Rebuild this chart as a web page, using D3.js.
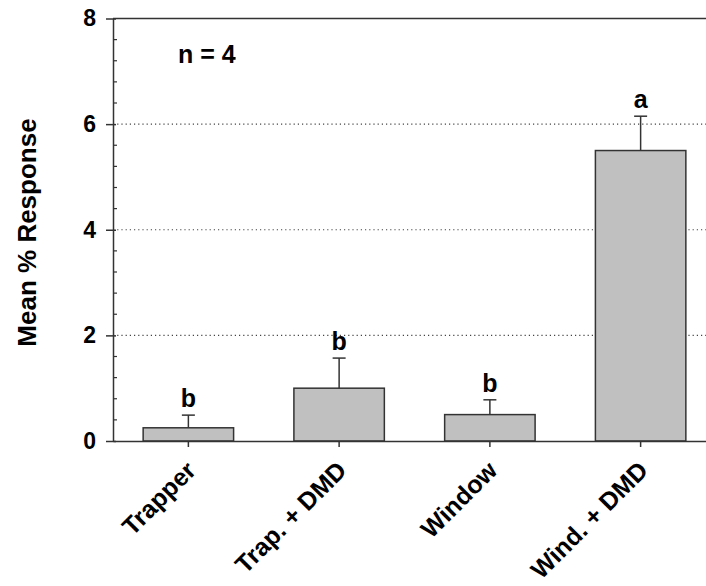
<!DOCTYPE html>
<html>
<head>
<meta charset="utf-8">
<script src="https://cdn.jsdelivr.net/npm/d3@7"></script>
<style>
  body { margin: 0; background: #fff; }
  svg { display: block; font-family: "Liberation Sans", Arial, sans-serif; font-weight: bold; }
</style>
</head>
<body>
<svg id="chart"></svg>
<script>
const categories = ["Trapper", "Trap. + DMD", "Window", "Wind. + DMD"];
const means = [0.25, 1.0, 0.5, 5.5];
const errors = [0.24, 0.57, 0.28, 0.65];
const letters = ["b", "b", "b", "a"];
const yTicks = [0, 2, 4, 6, 8];
const gridValues = [2, 4, 6];

const width = 706;
const height = 586;
const plotLeft = 113;
const plotTop = 18.5;
const plotBottom = 441;
const plotRight = 716;
const ink = "#333";
const fontFam = "Liberation Sans, Arial, sans-serif";

const svg = d3.select("#chart").attr("width", width).attr("height", height);

const xScale = d3
  .scaleBand()
  .domain(categories)
  .range([plotLeft, plotRight])
  .paddingInner(0.4)
  .paddingOuter(0.2);

const yScale = d3.scaleLinear().domain([0, 8]).range([plotBottom, plotTop]);

// dotted grid lines behind bars
svg
  .selectAll(".grid")
  .data(gridValues)
  .enter()
  .append("line")
  .attr("class", "grid")
  .attr("x1", plotLeft)
  .attr("x2", plotRight)
  .attr("y1", (d) => yScale(d))
  .attr("y2", (d) => yScale(d))
  .attr("stroke", "#444")
  .attr("stroke-width", 1.2)
  .attr("stroke-dasharray", "1.2,3");

// top frame line
svg
  .append("line")
  .attr("x1", plotLeft)
  .attr("x2", plotRight)
  .attr("y1", yScale(8))
  .attr("y2", yScale(8))
  .attr("stroke", ink)
  .attr("stroke-width", 1.5);

// bars
svg
  .selectAll(".bar")
  .data(categories)
  .enter()
  .append("rect")
  .attr("class", "bar")
  .attr("x", (d) => xScale(d))
  .attr("y", (d, i) => yScale(means[i]))
  .attr("width", xScale.bandwidth())
  .attr("height", (d, i) => yScale(0) - yScale(means[i]))
  .attr("fill", "#c0c0c0")
  .attr("stroke", ink)
  .attr("stroke-width", 1.5);

// error bars (upper only)
const cx = (d) => xScale(d) + xScale.bandwidth() / 2;
svg
  .selectAll(".err")
  .data(categories)
  .enter()
  .append("line")
  .attr("class", "err")
  .attr("x1", cx)
  .attr("x2", cx)
  .attr("y1", (d, i) => yScale(means[i]))
  .attr("y2", (d, i) => yScale(means[i] + errors[i]))
  .attr("stroke", ink)
  .attr("stroke-width", 1.5);

svg
  .selectAll(".cap")
  .data(categories)
  .enter()
  .append("line")
  .attr("class", "cap")
  .attr("x1", (d) => cx(d) - 6.5)
  .attr("x2", (d) => cx(d) + 6.5)
  .attr("y1", (d, i) => yScale(means[i] + errors[i]))
  .attr("y2", (d, i) => yScale(means[i] + errors[i]))
  .attr("stroke", ink)
  .attr("stroke-width", 1.5);

// significance letters
svg
  .selectAll(".letter")
  .data(categories)
  .enter()
  .append("text")
  .attr("class", "letter")
  .attr("x", cx)
  .attr("y", (d, i) => yScale(means[i] + errors[i]) - 8)
  .attr("text-anchor", "middle")
  .attr("font-size", 25)
  .attr("fill", "#000")
  .text((d, i) => letters[i]);

// y axis
const yAxis = d3
  .axisLeft(yScale)
  .tickValues(yTicks)
  .tickSizeInner(7)
  .tickSizeOuter(0)
  .tickPadding(10);

const yG = svg
  .append("g")
  .attr("transform", "translate(" + plotLeft + ",0)")
  .call(yAxis);
yG.select(".domain").attr("stroke", ink).attr("stroke-width", 1.5);
yG.selectAll(".tick line").attr("stroke", ink).attr("stroke-width", 1.5).attr("x2", -7).attr("x1", 3);
yG.selectAll(".tick text")
  .attr("font-size", 23)
  .attr("font-family", fontFam)
  .attr("font-weight", "bold")
  .attr("fill", "#000");

// minor y ticks (inside)
const minorTicks = d3.range(0, 8.001, 0.4).filter((v) => Math.abs(v / 2 - Math.round(v / 2)) > 0.01);
svg
  .selectAll(".minor")
  .data(minorTicks)
  .enter()
  .append("line")
  .attr("class", "minor")
  .attr("x1", plotLeft)
  .attr("x2", plotLeft + 4)
  .attr("y1", (d) => yScale(d))
  .attr("y2", (d) => yScale(d))
  .attr("stroke", ink)
  .attr("stroke-width", 1.2);

// x axis
const xAxis = d3.axisBottom(xScale).tickSizeInner(6).tickSizeOuter(0);
const xG = svg
  .append("g")
  .attr("transform", "translate(0," + plotBottom + ")")
  .call(xAxis);
xG.select(".domain").attr("stroke", ink).attr("stroke-width", 1.5);
xG.selectAll(".tick line").attr("stroke", ink).attr("stroke-width", 1.5);
xG.selectAll(".tick text")
  .attr("font-size", 25)
  .attr("font-family", fontFam)
  .attr("font-weight", "bold")
  .attr("fill", "#000")
  .attr("text-anchor", "end")
  .attr("x", 0)
  .attr("y", 0)
  .attr("dy", 0)
  .attr("transform", "translate(9,31) rotate(-45)");

// y axis title
svg
  .append("text")
  .attr("transform", "translate(36," + 232.5 + ") rotate(-90)")
  .attr("text-anchor", "middle")
  .attr("font-size", 26)
  .attr("fill", "#000")
  .text("Mean % Response");

// sample size note
svg
  .append("text")
  .attr("x", 178)
  .attr("y", 63)
  .attr("font-size", 25)
  .attr("fill", "#000")
  .text("n = 4");
</script>
</body>
</html>
